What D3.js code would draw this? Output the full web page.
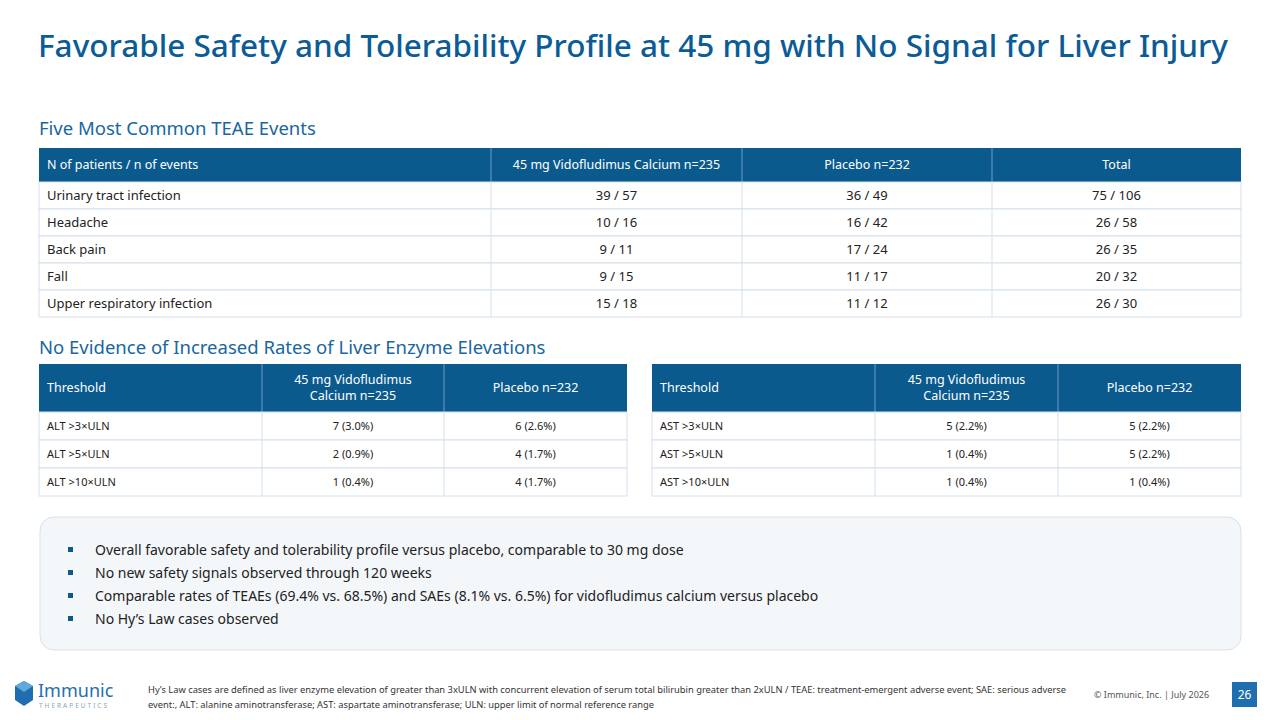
<!DOCTYPE html>
<html><head><meta charset="utf-8">
<script src="https://cdn.jsdelivr.net/npm/d3@7"></script>
<style>body{margin:0;background:#fff}svg{font-family:"Noto Sans",sans-serif}</style>
</head><body><div id="vis"></div>
<script>
const teaeHeader = ["N of patients / n of events", "45 mg Vidofludimus Calcium n=235", "Placebo n=232", "Total"];
const teaeEvents = ["Urinary tract infection", "Headache", "Back pain", "Fall", "Upper respiratory infection"];
const teaeDrug = ["39 / 57", "10 / 16", "9 / 11", "9 / 15", "15 / 18"];
const teaePlacebo = ["36 / 49", "16 / 42", "17 / 24", "11 / 17", "11 / 12"];
const teaeTotal = ["75 / 106", "26 / 58", "26 / 35", "20 / 32", "26 / 30"];

const liverHeader = ["Threshold", ["45 mg Vidofludimus", "Calcium n=235"], "Placebo n=232"];
const altThresh = ["ALT >3×ULN", "ALT >5×ULN", "ALT >10×ULN"];
const altDrug = ["7 (3.0%)", "2 (0.9%)", "1 (0.4%)"];
const altPlacebo = ["6 (2.6%)", "4 (1.7%)", "4 (1.7%)"];
const astThresh = ["AST >3×ULN", "AST >5×ULN", "AST >10×ULN"];
const astDrug = ["5 (2.2%)", "1 (0.4%)", "1 (0.4%)"];
const astPlacebo = ["5 (2.2%)", "5 (2.2%)", "1 (0.4%)"];

const bullets = [
  "Overall favorable safety and tolerability profile versus placebo, comparable to 30 mg dose",
  "No new safety signals observed through 120 weeks",
  "Comparable rates of TEAEs (69.4% vs. 68.5%) and SAEs (8.1% vs. 6.5%) for vidofludimus calcium versus placebo",
  "No Hy’s Law cases observed"
];

const BLUE = "#0b5a8e", GRID = "#d3e0ec";
const svg = d3.select("#vis").append("svg").attr("width", 1280).attr("height", 720);

svg.append("text").attr("x", 38).attr("y", 57).attr("fill", "#0b5c96").attr("font-weight", 500)
  .attr("font-size", 30).attr("textLength", 1190).attr("lengthAdjust", "spacingAndGlyphs")
  .text("Favorable Safety and Tolerability Profile at 45 mg with No Signal for Liver Injury");

function sub(y, t) {
  svg.append("text").attr("x", 39).attr("y", y).attr("fill", "#1767a0").attr("font-size", 18.5).text(t);
}
sub(135, "Five Most Common TEAE Events");
sub(354, "No Evidence of Increased Rates of Liver Enzyme Elevations");

function table(colEdges, headerTop, headerH, rowH, header, cols, fs, hfs) {
  const nRows = cols[0].length;
  const x = i => colEdges[i];
  const y = d3.scaleLinear().domain([0, nRows]).range([headerTop + headerH, headerTop + headerH + rowH * nRows]);
  const g = svg.append("g");
  g.append("rect").attr("x", x(0)).attr("y", headerTop).attr("width", x(colEdges.length - 1) - x(0))
    .attr("height", headerH).attr("fill", BLUE);
  header.forEach((h, i) => {
    const left = i === 0;
    const tx = left ? x(0) + 8 : (x(i) + x(i + 1)) / 2;
    const lines = Array.isArray(h) ? h : [h];
    const t = g.append("text").attr("x", tx).attr("fill", "#fff").attr("font-size", hfs)
      .attr("text-anchor", left ? "start" : "middle");
    lines.forEach((l, k) => t.append("tspan").attr("x", tx)
      .attr("y", headerTop + headerH / 2 + 4 + (k - (lines.length - 1) / 2) * 16).text(l));
    if (i > 0) g.append("line").attr("x1", x(i)).attr("x2", x(i)).attr("y1", headerTop).attr("y2", headerTop + headerH)
      .attr("stroke", "#6f9cc0").attr("stroke-width", 1);
  });
  for (let r = 0; r < nRows; r++) {
    g.append("rect").attr("x", x(0)).attr("y", y(r)).attr("width", x(colEdges.length - 1) - x(0))
      .attr("height", rowH).attr("fill", "#fff").attr("stroke", GRID);
    for (let c = 1; c < colEdges.length - 1; c++)
      g.append("line").attr("x1", x(c)).attr("x2", x(c)).attr("y1", y(r)).attr("y2", y(r + 1)).attr("stroke", GRID);
    cols.forEach((col, c) => {
      const left = c === 0;
      g.append("text").attr("x", left ? x(0) + 8 : (x(c) + x(c + 1)) / 2).attr("y", y(r) + rowH / 2 + 4)
        .attr("text-anchor", left ? "start" : "middle").attr("fill", "#222").attr("font-size", fs).text(col[r]);
    });
  }
}

table([39, 491, 742, 992, 1241], 148, 34, 27, teaeHeader, [teaeEvents, teaeDrug, teaePlacebo, teaeTotal], 13, 12.5);
table([39, 262, 444, 627], 364, 48, 28, liverHeader, [altThresh, altDrug, altPlacebo], 11, 12.5);
table([652, 875, 1058, 1241], 364, 48, 28, liverHeader, [astThresh, astDrug, astPlacebo], 11, 12.5);

svg.append("rect").attr("x", 40).attr("y", 517).attr("width", 1201).attr("height", 133).attr("rx", 14)
  .attr("fill", "#f4f7fa").attr("stroke", "#d5e2ee");
const by = d3.scalePoint().domain(d3.range(bullets.length)).range([550, 619]);
bullets.forEach((b, i) => {
  svg.append("rect").attr("x", 68).attr("y", by(i) - 3).attr("width", 5).attr("height", 5).attr("fill", BLUE);
  svg.append("text").attr("x", 95).attr("y", by(i) + 5).attr("font-size", 14).attr("fill", "#222").text(b);
});

// footer
const logo = svg.append("g");
logo.append("path").attr("d", "M24,681 L33,686 L33,700 L24,706 L15,700 L15,686 Z").attr("fill", "#1f6fb0");
logo.append("path").attr("d", "M24,681 L33,686 L24,692 L15,686 Z").attr("fill", "#5fa8dc");
logo.append("text").attr("x", 38).attr("y", 697).attr("font-size", 18).attr("fill", "#1f6fb0").text("Immunic");
logo.append("text").attr("x", 39).attr("y", 708).attr("font-size", 6.5).attr("letter-spacing", 2).attr("fill", "#8aa5bd").text("THERAPEUTICS");

svg.append("text").attr("x", 148).attr("y", 693).attr("font-size", 8.5).attr("fill", "#333")
  .attr("textLength", 918).attr("lengthAdjust", "spacingAndGlyphs")
  .text("Hy’s Law cases are defined as liver enzyme elevation of greater than 3xULN with concurrent elevation of serum total bilirubin greater than 2xULN / TEAE: treatment-emergent adverse event; SAE: serious adverse");
svg.append("text").attr("x", 148).attr("y", 708).attr("font-size", 8.5).attr("fill", "#333")
  .attr("textLength", 506).attr("lengthAdjust", "spacingAndGlyphs")
  .text("event:, ALT: alanine aminotransferase; AST: aspartate aminotransferase; ULN: upper limit of normal reference range");
svg.append("text").attr("x", 1094).attr("y", 698).attr("font-size", 9).attr("fill", "#555").text("© Immunic, Inc.  |  July 2026");
svg.append("rect").attr("x", 1232).attr("y", 682).attr("width", 25).attr("height", 25).attr("fill", "#1f6fb0");
svg.append("text").attr("x", 1244.5).attr("y", 699).attr("text-anchor", "middle").attr("font-size", 12).attr("fill", "#fff").text("26");
</script></body></html>
